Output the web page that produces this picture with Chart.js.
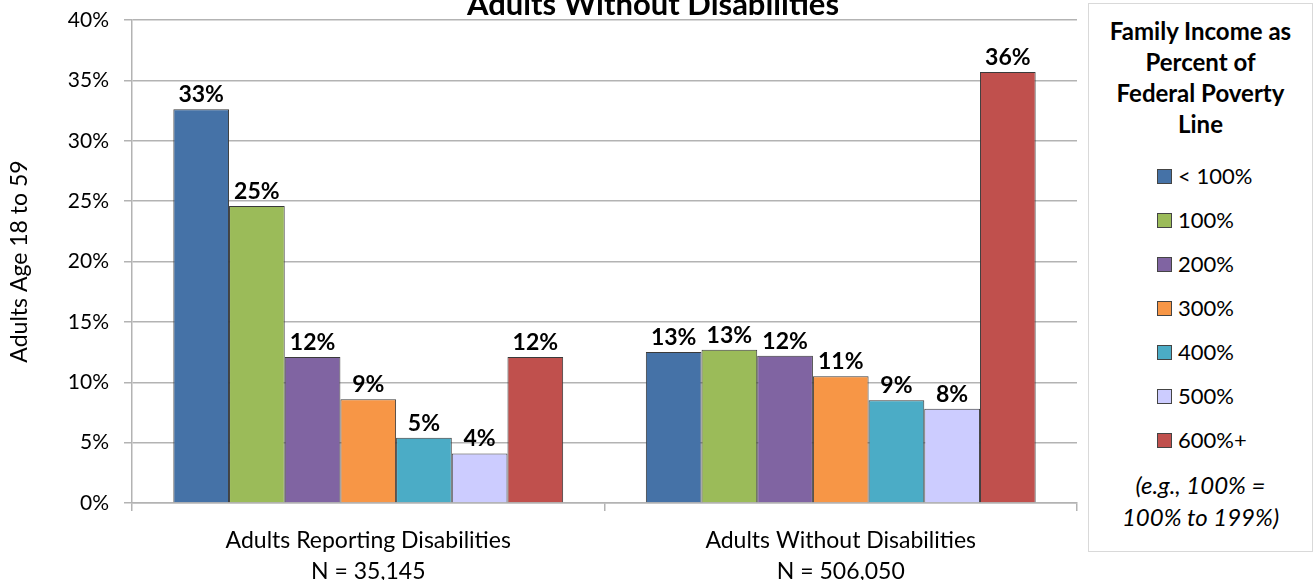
<!DOCTYPE html>
<html>
<head>
<meta charset="utf-8">
<script src="https://cdn.jsdelivr.net/npm/chart.js@4.4.0/dist/chart.umd.min.js"></script>
<style>
  body { margin: 0; background: #fff; font-family: Lato, 'Open Sans', sans-serif; }
  #wrap { position: relative; width: 1316px; height: 580px; overflow: hidden; }
  #chartBox { position: absolute; left: 0; top: 0; width: 1085px; height: 580px; }
  #legend {
    position: absolute; left: 1088px; top: 3px; width: 225px; height: 549px;
    border: 1px solid #d9d9d9; box-sizing: border-box; text-align: center; color: #000;
  }
  #legend .title { font-weight: bold; font-size: 24px; line-height: 31px; margin-top: 11px; }
  #legend .items { margin-top: 15px; text-align: left; }
  #legend .item { height: 44px; line-height: 44px; font-size: 22px; padding-left: 68px; white-space: nowrap; }
  #legend .swatch {
    display: inline-block; width: 13px; height: 13px; border: 1px solid #444;
    vertical-align: middle; margin-right: 6px; margin-top: -3px;
  }
  #legend .note { font-style: italic; font-size: 24px; line-height: 32px; margin-top: 7px; }
</style>
</head>
<body>
<div id="wrap">
  <div id="chartBox"><canvas id="incomeChart"></canvas></div>
  <div id="legend"></div>
</div>
<script>
// Data
const categories = [
  ['Adults Reporting Disabilities', 'N = 35,145'],
  ['Adults Without Disabilities', 'N = 506,050']
];
const incomeLevels = ['< 100%', '100%', '200%', '300%', '400%', '500%', '600%+'];
const withDisabilities = [32.6, 24.6, 12.1, 8.6, 5.4, 4.1, 12.1];
const withoutDisabilities = [12.5, 12.7, 12.2, 10.5, 8.5, 7.8, 35.7];
const yTicks = [0, 5, 10, 15, 20, 25, 30, 35, 40];

const palette = ['#4572A7', '#9BBB59', '#8064A2', '#F79646', '#4BACC6', '#CCCCFF', '#C0504D'];
const gridGray = '#b3b3b3';
const fontFamily = 'Lato, "Open Sans", sans-serif';

// Labels above each bar (no datalabels plugin available offline)
const barLabels = {
  id: 'barLabels',
  afterDatasetsDraw(chart) {
    const ctx = chart.ctx;
    ctx.save();
    ctx.font = 'bold 23px ' + fontFamily;
    ctx.fillStyle = '#000';
    ctx.textAlign = 'center';
    ctx.textBaseline = 'alphabetic';
    chart.data.datasets.forEach((ds, i) => {
      chart.getDatasetMeta(i).data.forEach((bar, j) => {
        ctx.fillText(Math.round(ds.data[j]) + '%', bar.x, bar.y - 7);
      });
    });
    ctx.restore();
  }
};

// Title is clipped at the top edge in the reference
const clippedTitle = {
  id: 'clippedTitle',
  afterDraw(chart) {
    const ctx = chart.ctx;
    ctx.save();
    ctx.font = 'bold 31px ' + fontFamily;
    ctx.fillStyle = '#000';
    ctx.textAlign = 'center';
    ctx.textBaseline = 'alphabetic';
    ctx.fillText('Adults Without Disabilities', 653, 15);
    ctx.restore();
  }
};

const datasets = incomeLevels.map((level, i) => ({
  label: level,
  data: [withDisabilities[i], withoutDisabilities[i]],
  backgroundColor: palette[i],
  borderColor: '#3a3a3a',
  borderWidth: 1,
  categoryPercentage: 0.825,
  barPercentage: 1.0
}));

const config = {
  type: 'bar',
  data: { labels: categories, datasets },
  options: {
    responsive: true,
    maintainAspectRatio: false,
    animation: false,
    layout: { padding: { top: 20, right: 8, left: 0, bottom: 0 } },
    plugins: {
      legend: { display: false },
      tooltip: { enabled: false }
    },
    scales: {
      x: {
        afterFit(scale) { scale.height = 77; },
        grid: {
          offset: true,
          drawOnChartArea: false,
          tickLength: 8,
          color: gridGray,
          lineWidth: 1.5
        },
        border: { color: gridGray, width: 1.5 },
        ticks: {
          color: '#000',
          padding: 14,
          font: { family: fontFamily, size: 23, lineHeight: 1.35 }
        }
      },
      y: {
        min: 0,
        max: 40,
        afterFit(scale) {
          scale.width = 132;
          // keep the tick label overflow from pushing the plot area down
          scale.paddingTop = 0;
          scale.paddingBottom = 0;
        },
        afterBuildTicks(scale) { scale.ticks = yTicks.map(v => ({ value: v })); },
        grid: { color: gridGray, lineWidth: 1.5, tickLength: 8 },
        border: { color: gridGray, width: 1.5 },
        ticks: {
          color: '#000',
          padding: 15,
          font: { family: fontFamily, size: 21 },
          callback: v => v + '%'
        },
        title: {
          display: true,
          text: 'Adults Age 18 to 59',
          color: '#000',
          padding: { top: 6, bottom: 0 },
          font: { family: fontFamily, size: 23 }
        }
      }
    }
  },
  plugins: [barLabels, clippedTitle]
};

new Chart(document.getElementById('incomeChart'), config);

// HTML legend built from the same series arrays
const legend = document.getElementById('legend');
legend.innerHTML =
  '<div class="title">Family Income as<br>Percent of<br>Federal Poverty<br>Line</div>' +
  '<div class="items">' +
  incomeLevels.map((level, i) =>
    `<div class="item"><span class="swatch" style="background:${palette[i]}"></span>${level.replace('<', '&lt;')}</div>`
  ).join('') +
  '</div>' +
  '<div class="note">(e.g., 100% =<br>100% to 199%)</div>';
</script>
</body>
</html>
